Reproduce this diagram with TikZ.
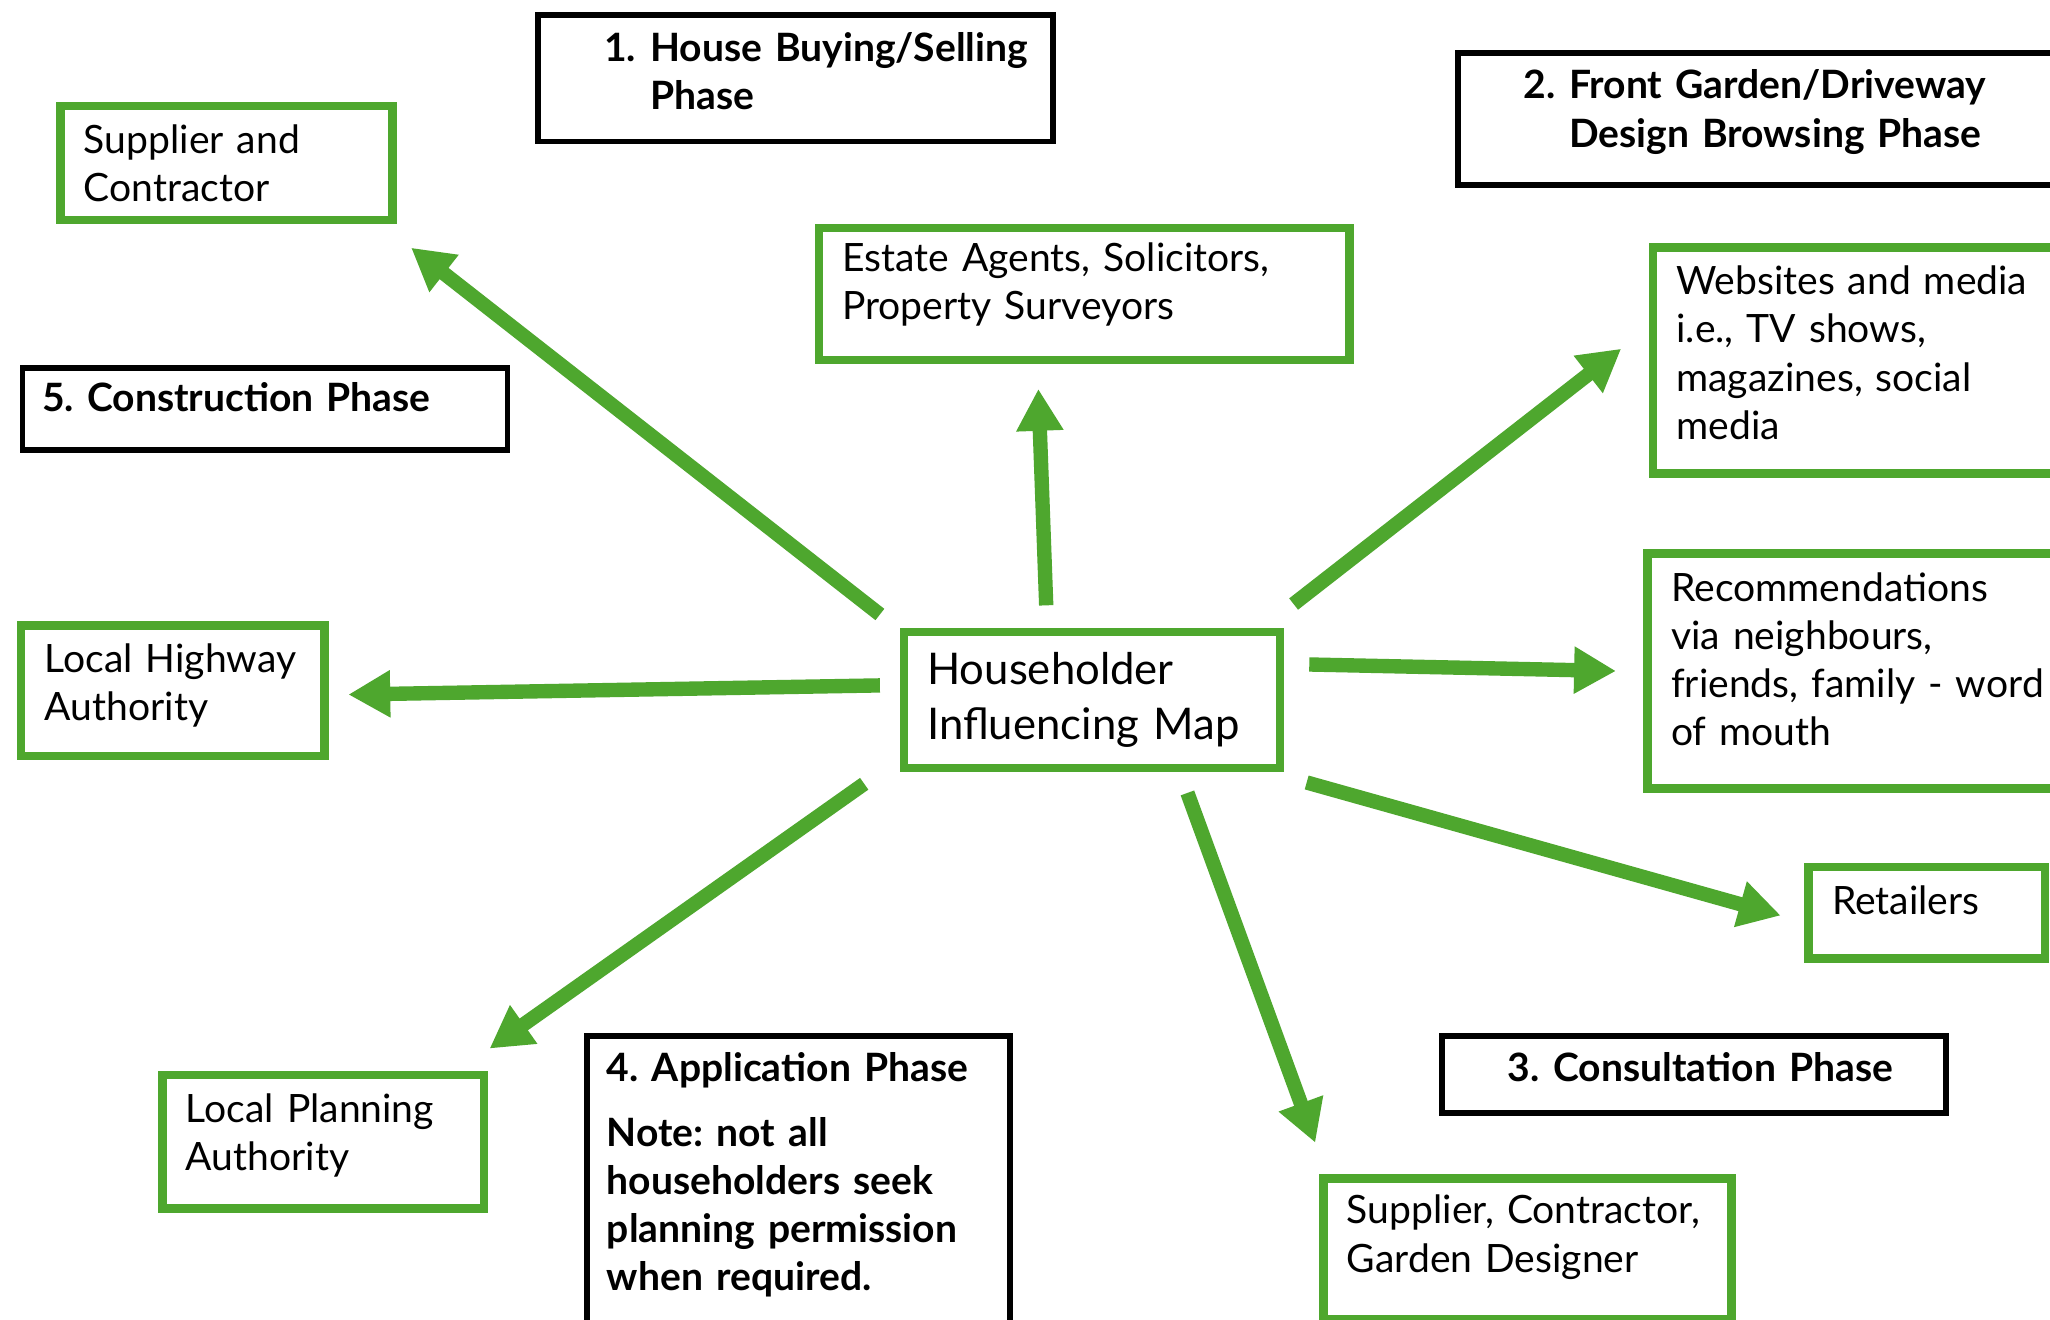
\documentclass[tikz,border=0pt]{standalone}
\usepackage{fontspec}
\setmainfont{Lato}
\usepackage{tikz}
\usetikzlibrary{arrows.meta, calc}
\definecolor{mapgreen}{RGB}{78, 167, 46}
\newcommand{\boxfont}{\fontsize{17}{21}\selectfont\frenchspacing}
\newcommand{\hubfont}{\fontsize{19}{24}\selectfont\frenchspacing}
% extra room below the text, so it sits a little higher in its box
\newcommand{\lift}[1]{\par\vspace{#1}\hrule height 0pt}

\begin{document}
\begin{tikzpicture}[
    x=0.02cm, y=-0.02cm,
    source/.style={draw=mapgreen, line width=0.13cm, anchor=north west, align=left,
                   inner xsep=0.36cm, inner ysep=0pt, font=\boxfont},
    phase/.style={draw=black, line width=0.09cm, anchor=north west, align=left,
                  inner xsep=0.3cm, inner ysep=0pt, font=\boxfont\bfseries},
    link/.style={draw=mapgreen, line width=0.22cm,
                 -{Triangle[length=0.64cm, width=0.68cm]}}
]
    \path[use as bounding box, fill=white] (0,0) rectangle (1568,1009);

    % Centre
    \node[source, font=\hubfont, minimum width=5.76cm, minimum height=2.08cm,
          text width=5.04cm] (hub) at (688,480) {Householder\\Influencing Map};

    % Phases
    \node[phase, minimum width=7.88cm, minimum height=1.94cm, text width=7.28cm]
        (buying) at (409,9) {%
        \begin{tabular}{@{\hspace{0.72cm}}p{0.7cm}@{}l@{}}
        1. & House Buying/Selling\\
           & Phase
        \end{tabular}\lift{0.08cm}};
    \node[phase, minimum width=9.44cm, minimum height=2.02cm, text width=8.84cm]
        (browsing) at (1113,38) {%
        \begin{tabular}{@{\hspace{0.7cm}}p{0.7cm}@{}l@{}}
        2. & Front Garden/Driveway\\
           & Design Browsing Phase
        \end{tabular}\lift{0.16cm}};
    \node[phase, minimum width=7.7cm, minimum height=1.18cm, text width=7.1cm]
        (consult) at (1101,790) {%
        \begin{tabular}{@{\hspace{0.7cm}}p{0.7cm}@{}l@{}}
        3. & Consultation Phase
        \end{tabular}\lift{0.08cm}};
    \node[phase, minimum width=6.46cm, minimum height=4.5cm, text width=5.86cm]
        (apply) at (447,790) {4. Application Phase\\[7pt]
        Note: not all\\householders seek\\planning permission\\when required.\lift{0.24cm}};
    \node[phase, minimum width=7.42cm, minimum height=1.26cm, text width=6.82cm]
        (build) at (15,279) {5. Construction Phase\lift{0.36cm}};

    % Influencers
    \node[source, minimum width=5.08cm, minimum height=1.74cm, text width=4.36cm]
        (sup) at (43,78) {Supplier and\\Contractor};
    \node[source, minimum width=8.12cm, minimum height=2.02cm, text width=7.4cm]
        (estate) at (623,171) {Estate Agents, Solicitors,\\Property Surveyors\lift{0.28cm}};
    \node[source, minimum width=6.88cm, minimum height=3.46cm, text width=6.16cm]
        (web) at (1261,186)
        {Websites and media\\i.e., TV shows,\\magazines, social\\media\lift{0.24cm}};
    \node[source, minimum width=6.86cm, minimum height=3.6cm, text width=6.14cm]
        (rec) at (1257,420)
        {Recommendations\\via neighbours,\\friends, family - word\\of mouth\lift{0.36cm}};
    \node[source, minimum width=3.62cm, minimum height=1.4cm, text width=2.9cm]
        (ret) at (1380,660) {Retailers\lift{0.4cm}};
    \node[source, minimum width=6.24cm, minimum height=2.16cm, text width=5.52cm]
        (scg) at (1009,898) {Supplier, Contractor,\\Garden Designer\lift{0.36cm}};
    \node[source, minimum width=4.92cm, minimum height=2.04cm, text width=4.2cm]
        (lpa) at (121,819) {Local Planning\\Authority\lift{0.2cm}};
    \node[source, minimum width=4.64cm, minimum height=2cm, text width=3.92cm]
        (lha) at (13,475) {Local Highway\\Authority\lift{0.16cm}};

    % Arrows
    \draw[link] ($(hub.north west)+(-15,-10)$) -- ($(sup.south east)+(11,18)$);
    \draw[link] ($(hub.north)+(-35,-17)$) -- ($(estate.south)+(-35,19)$);
    \draw[link] ($(hub.north east)+(7,-18)$) -- ($(web.west)+(-21,-9)$);
    \draw[link] ($(hub.east)+(19,-27)$) -- ($(rec.west)+(-21,0)$);
    \draw[link] ($(hub.south east)+(17,8)$) -- ($(ret.west)+(-18,2)$);
    \draw[link] ($(hub.south)+(73,16)$) -- ($(scg.north west)+(-3,-24)$);
    \draw[link] ($(hub.south west)+(-27,9)$) -- ($(lpa.north east)+(1,-17)$);
    \draw[link] ($(hub.west)+(-15,-11)$) -- ($(lha.east)+(15,3)$);
\end{tikzpicture}
\end{document}
